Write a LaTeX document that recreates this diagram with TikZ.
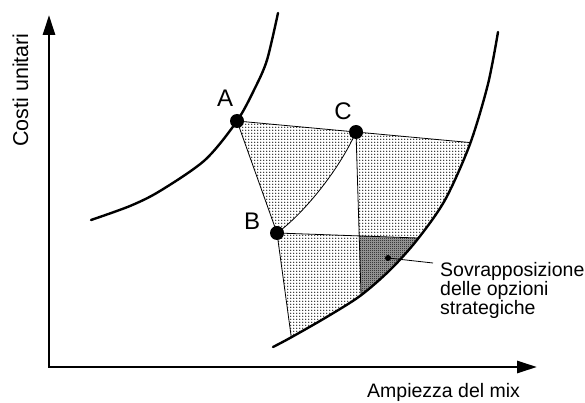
\documentclass[tikz,border=0pt]{standalone}
\usepackage{fontspec}
\setmainfont{Liberation Sans}
\usetikzlibrary{patterns,arrows.meta}
\pgfdeclarepatternformonly{stipple}{\pgfqpoint{-1pt}{-1pt}}{\pgfqpoint{2pt}{2pt}}{\pgfqpoint{3pt}{3pt}}%
{\pgfpathcircle{\pgfqpoint{0pt}{0pt}}{0.7pt}\pgfusepath{fill}}
\pgfdeclarepatternformonly{checker}{\pgfqpoint{0pt}{0pt}}{\pgfqpoint{2pt}{2pt}}{\pgfqpoint{2pt}{2pt}}%
{\pgfpathrectangle{\pgfqpoint{0pt}{0pt}}{\pgfqpoint{1pt}{1pt}}\pgfpathrectangle{\pgfqpoint{1pt}{1pt}}{\pgfqpoint{1pt}{1pt}}\pgfusepath{fill}}
\begin{document}
\begin{tikzpicture}[x=1pt,y=-1pt,
 axis/.style={line width=2.8pt, line join=miter},
 curvebold/.style={line width=2.4pt, line cap=round},
 thinline/.style={line width=0.8pt},
 dotfill/.style={pattern=stipple},
 overbase/.style={fill=black!35},
 overfill/.style={pattern=checker},
 bigpt/.style={circle, fill=black, inner sep=0pt, minimum size=14pt},
 smallpt/.style={circle, fill=black, inner sep=0pt, minimum size=6pt},
 lbl/.style={font=\fontsize{24}{24}\selectfont, inner sep=0pt},
 txt/.style={font=\fontsize{19.5}{18}\selectfont, inner sep=0pt, align=left}]
\useasboundingbox (0,0) rectangle (585,403);
\def\rightcurve{(273,347) (290,338) (325,318) (360,296) (390,270) (417,240) (445,200) (470,144) (488,84) (498,32)}
\coordinate (A) at (237,121);
\coordinate (B) at (277,233);
\coordinate (C) at (356,132);
\coordinate (Ae) at (530,148.1);
\coordinate (Hr) at (480,240.2);
\coordinate (Vb) at (362.4,340);
\coordinate (Bb) at (294.4,360);
\coordinate (H) at (intersection of B--Hr and C--Vb);
% region A-C-B
\fill[dotfill] (A) -- (C) .. controls (338,172) and (302,215) .. (B) -- cycle;
\begin{scope}
\clip plot[smooth] coordinates {\rightcurve} -- (498,-10) -- (-10,-10) -- (-10,420) -- (273,420) -- cycle;
\fill[dotfill] (C) -- (Ae) -- (Hr) -- (H) -- cycle;
\fill[dotfill] (B) -- (H) -- (Vb) -- (Bb) -- cycle;
\fill[overbase] (H) -- (Hr) -- (Vb) -- cycle;
\fill[overfill] (H) -- (Hr) -- (Vb) -- cycle;
\draw[thinline] (A) -- (Ae);
\draw[thinline] (B) -- (Hr);
\draw[thinline] (C) -- (Vb);
\draw[thinline] (B) -- (Bb);
\end{scope}
\draw[thinline] (A) -- (B);
\draw[thinline] (C) .. controls (338,172) and (302,215) .. (B);
% curves
\draw[curvebold] plot[smooth] coordinates {(91,220) (130,206) (160,191) (205,160) (237,121) (255,88) (267,60) (278,13)};
\draw[curvebold] plot[smooth] coordinates {\rightcurve};
% points
\node[bigpt] (pA) at (A) {};
\node[bigpt] (pB) at (B) {};
\node[bigpt] (pC) at (C) {};
\node[lbl] (lA) at (225,98.5) {A};
\node[lbl] (lB) at (252,221.5) {B};
\node[lbl] (lC) at (343,111.5) {C};
% overlap note
\node[smallpt] (ov) at (388,258) {};
\coordinate (le) at (433,263);
\draw[thinline] (ov.center) -- (le);
\node[txt, anchor=north west] (note) at (440,262) {Sovrapposizione\\delle opzioni\\strategiche};
% axes
\coordinate (ytip) at (49,15);
\coordinate (orig) at (49,367);
\coordinate (xtip) at (537,367);
\draw[axis, {Triangle[length=20pt,width=12pt]}-{Triangle[length=20pt,width=12pt]}] (ytip) -- (orig) -- (xtip);
\node[txt, anchor=base west] (xl) at (367,397) {Ampiezza del mix};
\node[font=\fontsize{21.5}{21.5}\selectfont, inner sep=0pt, rotate=90, anchor=base west] (yl) at (28,147) {Costi unitari};
\end{tikzpicture}
\end{document}
